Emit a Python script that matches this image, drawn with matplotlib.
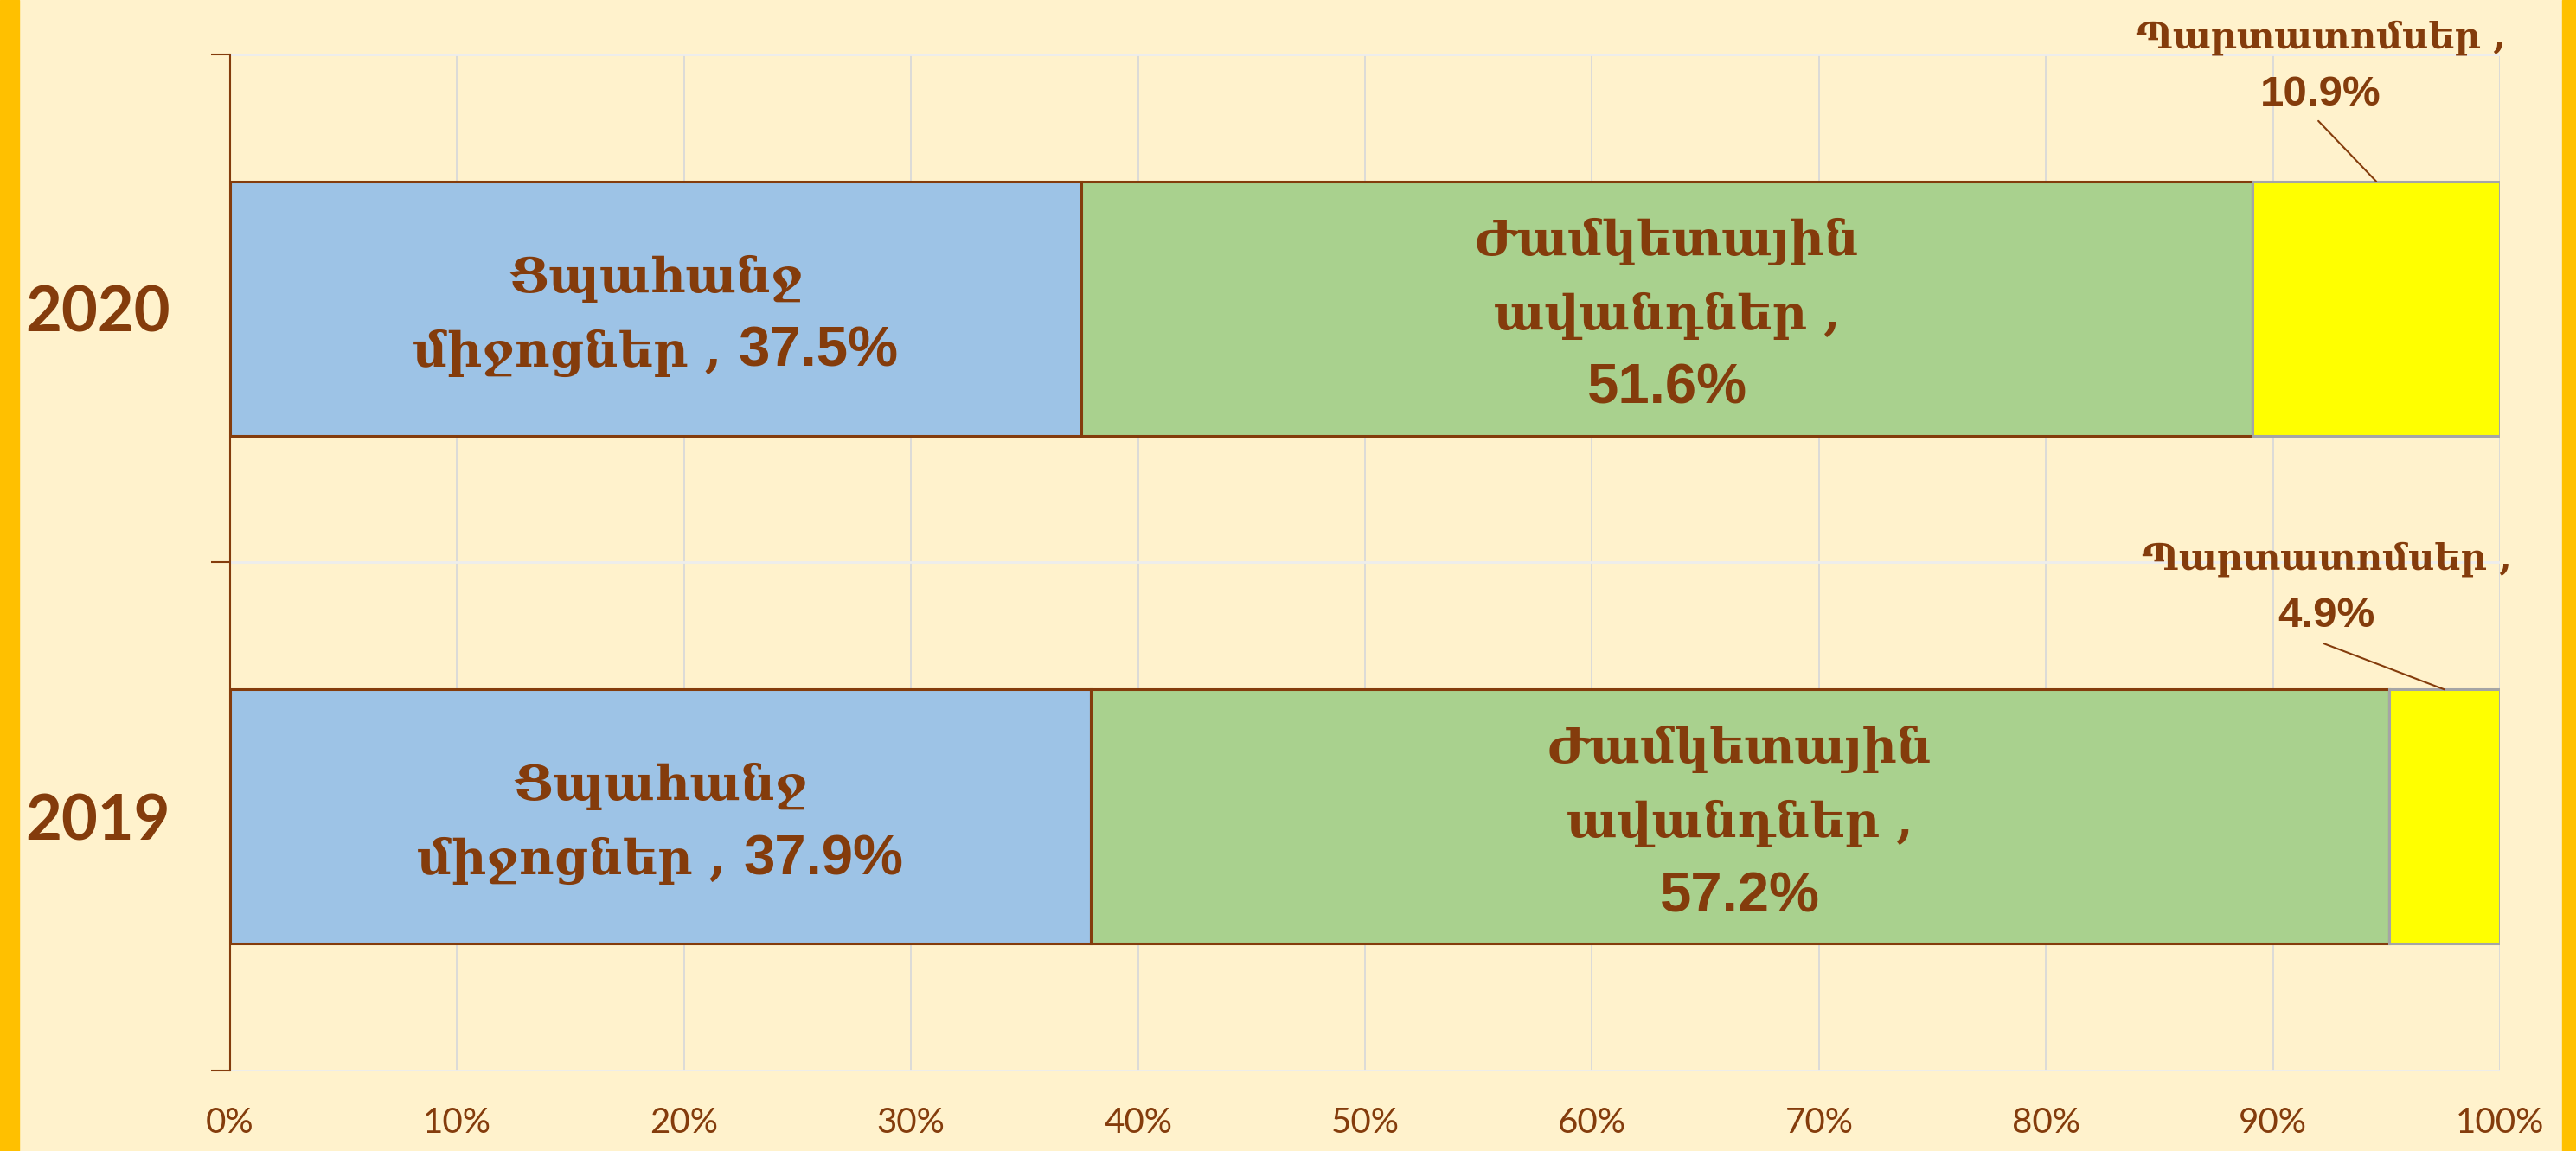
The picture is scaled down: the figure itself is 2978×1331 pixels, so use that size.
import matplotlib
matplotlib.use('Agg')
import matplotlib.pyplot as plt
from matplotlib.patches import Rectangle

# data
years = ['2019', '2020']
demand = [37.9, 37.5]    # Ցպահանջ միջոցներ
term = [57.2, 51.6]      # Ժամկետային ավանդներ
bonds = [4.9, 10.9]      # Պարտատոմսեր
demand_name = ['Ցպահանջ', 'միջոցներ']
term_name = ['Ժամկետային', 'ավանդներ']
bonds_name = 'Պարտատոմսեր'
xticks = [0, 10, 20, 30, 40, 50, 60, 70, 80, 90, 100]

brown = '#843C0C'
bg = '#FFF2CC'
arm_font = ['DejaVu Serif']
num_font = ['Liberation Sans']
DPI = 100
PX = 72 / DPI  # pixel -> points

fig = plt.figure(figsize=(29.78, 13.31), dpi=DPI, facecolor=bg)
ax = fig.add_axes([0.0893, 0.0699, 0.9705 - 0.0893, 0.9527 - 0.0699])
ax.set_facecolor(bg)
renderer = fig.canvas.get_renderer()

# orange side stripes
fig.patches.append(Rectangle((0.0, 0), 0.0075, 1, transform=fig.transFigure, color='#FFC000', zorder=0))
fig.patches.append(Rectangle((0.9945, 0), 0.0055, 1, transform=fig.transFigure, color='#FFC000', zorder=0))

y = list(range(len(years)))
h = 0.5
ax.barh(y, demand, height=h, color='#9DC3E6', edgecolor=brown, linewidth=2.2, zorder=3)
ax.barh(y, term, left=demand, height=h, color='#A9D18E', edgecolor=brown, linewidth=2.2, zorder=3)
left2 = [a + b for a, b in zip(demand, term)]
ax.barh(y, bonds, left=left2, height=h, color='#FFFF00', edgecolor='#A5A5A5', linewidth=2.2, zorder=3)


def put_line(xy, segs, dx_px, dy_px):
    """segs: list of (text, fontsize, family) drawn bold, centred at dx_px, baseline at dy_px"""
    arts = []
    widths = []
    for s, fs, fam in segs:
        t = ax.annotate(s, xy=xy, xytext=(0, 0), textcoords='offset points',
                        ha='left', va='baseline', fontsize=fs, fontweight='bold',
                        family=fam, color=brown, zorder=5, annotation_clip=False)
        widths.append(t.get_window_extent(renderer).width)
        arts.append(t)
    x0 = dx_px - sum(widths) / 2
    for t, w in zip(arts, widths):
        t.xyann = (x0 * PX, dy_px * PX)
        x0 += w


arm = 40
num = 47
step = 86
for i in y:
    # blue
    lines = [[(demand_name[0], arm, arm_font)],
             [(demand_name[1] + ' , ', arm, arm_font), (f'{demand[i]:.1f}%', num, num_font)]]
    n = len(lines)
    for k, segs in enumerate(lines):
        put_line((demand[i] / 2, i), segs, 0, -(24 + (k - (n - 1) / 2) * step))
    # green
    lines = [[(term_name[0], arm, arm_font)],
             [(term_name[1] + ' ,', arm, arm_font)],
             [(f'{term[i]:.1f}%', num, num_font)]]
    n = len(lines)
    for k, segs in enumerate(lines):
        put_line((demand[i] + term[i] / 2, i), segs, 0, -(24 + (k - (n - 1) / 2) * step))

# yellow labels outside with leader lines (offsets in px)
ylab_pos = [(-136, 139, 72), (-64, 154, 88)]
lead_start = [(-139, 53), (-67, 70)]
for i in y:
    xy = (left2[i] + bonds[i] / 2, i + h / 2)
    dx, b1, b2 = ylab_pos[i]
    put_line(xy, [(bonds_name + ' ,', 30, arm_font)], dx, b1)
    put_line(xy, [(f'{bonds[i]:.1f}%', 35.5, num_font)], dx, b2)
    ax.annotate('', xy=xy, xytext=(lead_start[i][0] * PX, lead_start[i][1] * PX),
                textcoords='offset points', annotation_clip=False,
                arrowprops=dict(arrowstyle='-', color=brown, lw=1.5, shrinkA=0, shrinkB=0))

ax.set_xlim(0, 100)
ax.set_ylim(-0.5, 1.5)
ax.set_xticks(xticks)
ax.set_xticklabels([f'{t}%' for t in xticks], fontsize=29, color=brown, family='Lato')
ax.tick_params(axis='x', length=0, pad=30)
ax.set_yticks(y)
ax.set_yticklabels(years, fontsize=52, fontweight='bold', color=brown, family='Lato')
ax.tick_params(axis='y', which='major', length=0, pad=50)
ax.set_yticks([-0.5, 0.5, 1.5], minor=True)
ax.tick_params(axis='y', which='minor', length=16, width=1.5, color=brown)

for xv in xticks[1:]:
    ax.axvline(xv, color='#D9D9D9', lw=1.3, zorder=1)
for yv in [-0.5, 0.5, 1.5]:
    ax.axhline(yv, color='#EDEDED', lw=2, zorder=1)

for s in ['top', 'right', 'bottom']:
    ax.spines[s].set_visible(False)
ax.spines['left'].set_color(brown)
ax.spines['left'].set_linewidth(1.5)
ax.spines['left'].set_zorder(4)

fig.savefig('out.png', dpi=DPI, facecolor=bg)
